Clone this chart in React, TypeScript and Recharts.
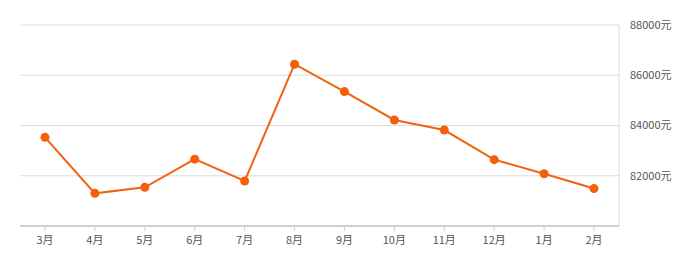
import { LineChart, Line, XAxis, YAxis, CartesianGrid } from 'recharts';

const months = ['3月', '4月', '5月', '6月', '7月', '8月', '9月', '10月', '11月', '12月', '1月', '2月'];
const prices = [83530, 81300, 81540, 82660, 81790, 86440, 85350, 84220, 83820, 82640, 82080, 81490];
const yTicks = [82000, 84000, 86000, 88000];

const data = months.map((m, i) => ({ month: m, price: prices[i] }));

const font = '"Microsoft YaHei", "Noto Sans CJK SC", sans-serif';

export default function App() {
  return (
    <div style={{ position: 'absolute', left: 0, top: 0, background: '#fff' }}>
      <LineChart width={700} height={261} data={data} margin={{ top: 25, right: 0, left: 20, bottom: 0 }}>
        <CartesianGrid vertical={false} stroke="#dcdcdc" />
        <XAxis
          dataKey="month"
          height={35}
          padding={{ left: 25, right: 25 }}
          axisLine={{ stroke: '#cfcfcf', strokeWidth: 2 }}
          tickLine={{ stroke: '#cfcfcf' }}
          tickSize={5}
          tickMargin={5}
          interval={0}
          tick={{ fontSize: 11, fill: '#555', fontFamily: font }}
        />
        <YAxis
          orientation="right"
          width={81}
          domain={[80000, 88000]}
          ticks={yTicks}
          axisLine={{ stroke: '#dcdcdc' }}
          tickLine={false}
          tickSize={0}
          tickMargin={11}
          tickFormatter={(v) => `${v}元`}
          tick={{ fontSize: 11, fill: '#555', fontFamily: font }}
        />
        <Line
          dataKey="price"
          stroke="#f0640f"
          strokeWidth={2}
          dot={{ r: 4.5, fill: '#f55f0a', stroke: 'none' }}
          isAnimationActive={false}
        />
      </LineChart>
    </div>
  );
}
